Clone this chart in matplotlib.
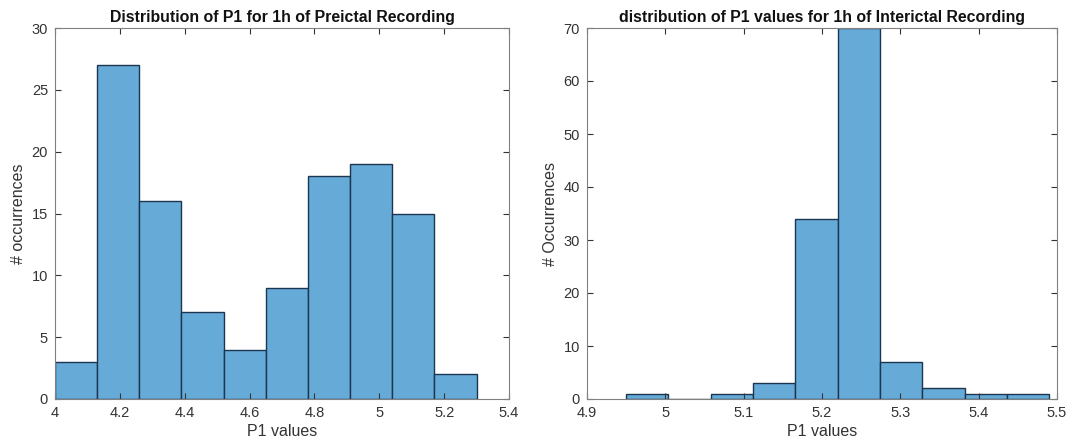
import numpy as np
import matplotlib
matplotlib.use('Agg')
from matplotlib import pyplot as plt

plt.rcParams['font.family'] = ['Liberation Sans', 'DejaVu Sans']

# preictal histogram (left)
pre_edges = [4.0, 4.13, 4.26, 4.39, 4.52, 4.65, 4.78, 4.91, 5.04, 5.17, 5.30]
pre_counts = [3, 27, 16, 7, 4, 9, 18, 19, 15, 2]

# interictal histogram (right)
inter_edges = [4.95, 5.004, 5.058, 5.112, 5.166, 5.22, 5.274, 5.328, 5.382, 5.436, 5.49]
inter_counts = [1, 0, 1, 3, 34, 70, 7, 2, 1, 1]

face = (0.4, 0.668, 0.845)
edge = '#1c3550'
txt = '#333333'
spine = '#808080'

fig = plt.figure(figsize=(10.79, 4.45), dpi=100)
ax1 = fig.add_axes([55/1079, 1-399/445, (509-55)/1079, (399-28)/445])
ax2 = fig.add_axes([587/1079, 1-399/445, (1057-587)/1079, (399-28)/445])


def draw(ax, edges, counts, xlim, ylim, xticks, yticks, title, ylabel):
    e = np.array(edges)
    ax.bar(e[:-1], counts, width=np.diff(e), align='edge', color=face,
           edgecolor=edge, linewidth=1.0)
    ax.set_xlim(*xlim)
    ax.set_ylim(*ylim)
    ax.set_xticks(xticks)
    ax.set_xticklabels([('%g' % t) for t in xticks])
    ax.set_yticks(yticks)
    ax.tick_params(direction='in', top=True, right=True, length=4,
                   labelsize=10.5, colors=txt, pad=5)
    for s in ax.spines.values():
        s.set_color(spine)
        s.set_linewidth(0.8)
    ax.set_title(title, fontsize=11.4, fontweight='bold', color='#111111', pad=4)
    ax.set_xlabel('P1 values', fontsize=11.5, color=txt, labelpad=3)
    ax.set_ylabel(ylabel, fontsize=11.5, color=txt, labelpad=4)


draw(ax1, pre_edges, pre_counts, (4, 5.4), (0, 30),
     [4, 4.2, 4.4, 4.6, 4.8, 5, 5.2, 5.4], range(0, 31, 5),
     'Distribution of P1 for 1h of Preictal Recording', '# occurrences')
draw(ax2, inter_edges, inter_counts, (4.9, 5.5), (0, 70),
     [4.9, 5, 5.1, 5.2, 5.3, 5.4, 5.5], range(0, 71, 10),
     'distribution of P1 values for 1h of Interictal Recording', '# Occurrences')

plt.savefig('out.png', dpi=100)
